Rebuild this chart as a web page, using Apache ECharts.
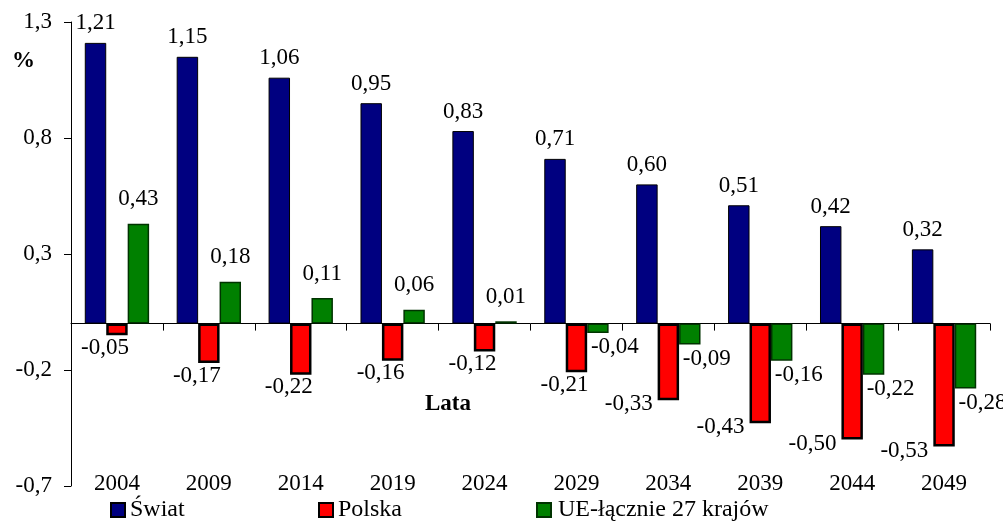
<!DOCTYPE html>
<html>
<head>
<meta charset="utf-8">
<script src="https://cdn.jsdelivr.net/npm/echarts@6/dist/echarts.min.js"></script>
<style>
html,body{margin:0;padding:0;background:#fff;}
#main{width:1003px;height:522px;}
</style>
</head>
<body>
<div id="main"></div>
<script>
const years = ['2004','2009','2014','2019','2024','2029','2034','2039','2044','2049'];
const swiat = [1.21, 1.15, 1.06, 0.95, 0.83, 0.71, 0.60, 0.51, 0.42, 0.32];
const polska = [-0.05, -0.17, -0.22, -0.16, -0.12, -0.21, -0.33, -0.43, -0.50, -0.53];
const ue = [0.43, 0.18, 0.11, 0.06, 0.01, -0.04, -0.09, -0.16, -0.22, -0.28];
const seriesNames = ['Świat', 'Polska', 'UE-łącznie 27 krajów'];
const xAxisTitle = 'Lata';
const yAxisTitle = '%';

const FONT = 'Liberation Serif';
const FS = 23;
const fmt = v => v.toFixed(2).replace('.', ',');
const labelBase = {show: true, fontFamily: FONT, fontSize: FS, color: '#000',
  formatter: p => fmt(p.value)};

const chart = echarts.init(document.getElementById('main'), null, {renderer: 'canvas'});

const polskaData = polska.map(v => v <= -0.3
  ? {value: v, label: {position: ['0%', '100%'], align: 'right', verticalAlign: 'middle', offset: [-5, 4]}}
  : {value: v, label: {position: 'bottom', distance: 1, offset: [-12, 0]}});
const ueData = ue.map(v => v < 0
  ? {value: v, label: {position: 'bottom', distance: 3, offset: [17, 0]}}
  : {value: v, label: {position: 'top', distance: 13}});

const legendText = {fontFamily: FONT, fontSize: 24, color: '#000'};
const mkLegend = (name, left, pad) => ({
  top: 498, left: left, itemWidth: 14, itemHeight: 14, padding: 0,
  textStyle: Object.assign({}, legendText, {padding: [0, 0, 0, pad]}),
  data: [{name: name, icon: 'rect'}]
});

chart.setOption({
  animation: false,
  backgroundColor: '#fff',
  textStyle: {fontFamily: FONT},
  grid: {left: 71, right: 13, top: 22, bottom: 36, containLabel: false},
  title: [
    {text: xAxisTitle, left: 425, top: 393, padding: 0,
     textStyle: {fontFamily: FONT, fontSize: FS, fontWeight: 'bold', color: '#000'}},
    {text: yAxisTitle, left: 12, top: 50, padding: 0,
     textStyle: {fontFamily: FONT, fontSize: FS, fontWeight: 'bold', color: '#000'}}
  ],
  legend: [
    mkLegend(seriesNames[0], 110, 0),
    mkLegend(seriesNames[1], 318, 0),
    mkLegend(seriesNames[2], 536, 2)
  ],
  xAxis: [
    {
      type: 'category', data: years, position: 'bottom',
      axisLine: {onZero: true, lineStyle: {color: '#000', width: 1}},
      axisTick: {show: true, inside: false, length: 7, lineStyle: {color: '#000'}},
      axisLabel: {show: false}
    },
    {
      type: 'category', data: years, position: 'bottom',
      axisLine: {show: false, onZero: false},
      axisTick: {show: false},
      axisLabel: {show: true, margin: -14, fontFamily: FONT, fontSize: FS, color: '#000'}
    }
  ],
  yAxis: {
    type: 'value', min: -0.7, max: 1.3, interval: 0.5,
    axisLine: {show: true, lineStyle: {color: '#000', width: 1}},
    axisTick: {show: true, length: 7, lineStyle: {color: '#000'}},
    splitLine: {show: false},
    axisLabel: {fontFamily: FONT, fontSize: FS, color: '#000', margin: 19,
      formatter: v => (Math.round(v * 10) / 10).toString().replace('.', ',')}
  },
  series: [
    {
      name: seriesNames[0], type: 'bar', data: swiat, barGap: '0%', barCategoryGap: '30%',
      itemStyle: {color: '#000080', borderColor: '#000', borderWidth: 1},
      label: Object.assign({}, labelBase, {position: 'top', distance: 8})
    },
    {
      name: seriesNames[1], type: 'bar', data: polskaData, barGap: '0%', barCategoryGap: '30%',
      itemStyle: {color: '#FF0000', borderColor: '#000', borderWidth: 2.5},
      label: Object.assign({}, labelBase)
    },
    {
      name: seriesNames[2], type: 'bar', data: ueData, barGap: '0%', barCategoryGap: '30%',
      itemStyle: {color: '#008000', borderColor: '#003300', borderWidth: 1.5},
      label: Object.assign({}, labelBase)
    }
  ]
});
</script>
</body>
</html>
